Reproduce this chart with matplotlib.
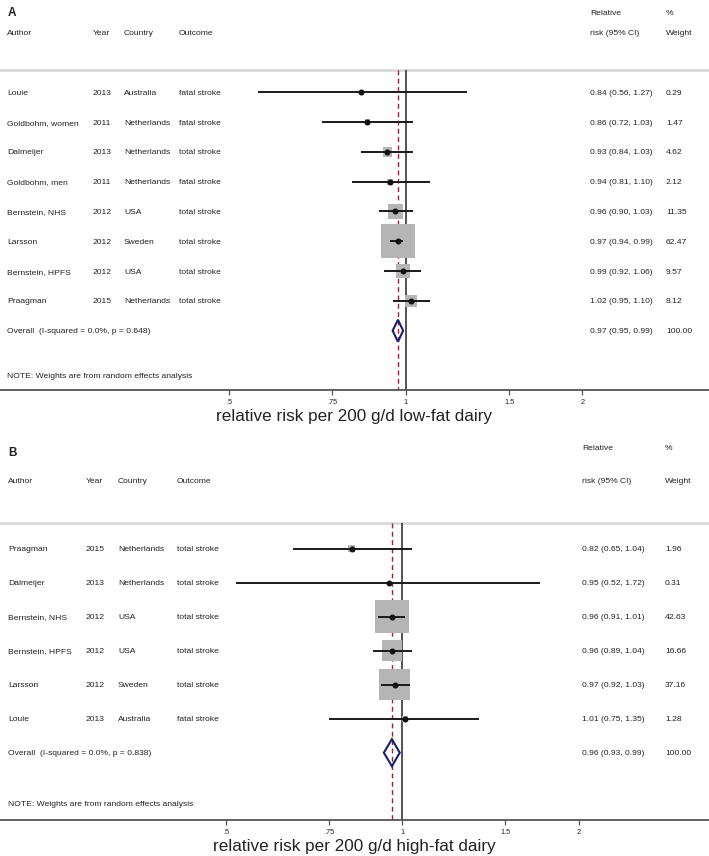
import numpy as np
import matplotlib.pyplot as plt
from matplotlib.patches import Polygon

plt.rcParams['font.family'] = ['Liberation Sans', 'DejaVu Sans']

# ---- panel A: low-fat dairy ----
authors_a = ["Louie", "Goldbohm, women", "Dalmeijer", "Goldbohm, men",
             "Bernstein, NHS", "Larsson", "Bernstein, HPFS", "Praagman"]
years_a = [2013, 2011, 2013, 2011, 2012, 2012, 2012, 2015]
countries_a = ["Australia", "Netherlands", "Netherlands", "Netherlands",
               "USA", "Sweden", "USA", "Netherlands"]
outcomes_a = ["fatal stroke", "fatal stroke", "total stroke", "fatal stroke",
              "total stroke", "total stroke", "total stroke", "total stroke"]
rr_a = [0.84, 0.86, 0.93, 0.94, 0.96, 0.97, 0.99, 1.02]
lo_a = [0.56, 0.72, 0.84, 0.81, 0.90, 0.94, 0.92, 0.95]
hi_a = [1.27, 1.03, 1.03, 1.10, 1.03, 0.99, 1.06, 1.10]
w_a = [0.29, 1.47, 4.62, 2.12, 11.35, 62.47, 9.57, 8.12]
overall_a = [0.97, 0.95, 0.99]
het_a = "Overall  (I-squared = 0.0%, p = 0.648)"

# ---- panel B: high-fat dairy ----
authors_b = ["Praagman", "Dalmeijer", "Bernstein, NHS", "Bernstein, HPFS",
             "Larsson", "Louie"]
years_b = [2015, 2013, 2012, 2012, 2012, 2013]
countries_b = ["Netherlands", "Netherlands", "USA", "USA", "Sweden", "Australia"]
outcomes_b = ["total stroke", "total stroke", "total stroke", "total stroke",
              "total stroke", "fatal stroke"]
rr_b = [0.82, 0.95, 0.96, 0.96, 0.97, 1.01]
lo_b = [0.65, 0.52, 0.91, 0.89, 0.92, 0.75]
hi_b = [1.04, 1.72, 1.01, 1.04, 1.03, 1.35]
w_b = [1.96, 0.31, 42.63, 16.66, 37.16, 1.28]
overall_b = [0.96, 0.93, 0.99]
het_b = "Overall  (I-squared = 0.0%, p = 0.838)"

tick_vals = [0.5, 0.75, 1, 1.5, 2]
tick_labs = [".5", ".75", "1", "1.5", "2"]

W, H = 709, 856
TXT = '#222222'
FS = 6.1
VA = 'center_baseline'


def forest(ax, letter, authors, years, countries, outcomes, rr, lo, hi, w,
           overall, het, xlab, one_px, px_ln, row_px, top_row, bottom_row,
           cols, head_rows, box_max, dia_h):
    n = len(rr)
    ax.set_xscale('log')
    ax.set_xlim(np.exp(-one_px / px_ln), np.exp((W - one_px) / px_ln))
    ax.set_ylim(bottom_row, top_row)
    for s in ['top', 'left', 'right']:
        ax.spines[s].set_visible(False)
    ax.spines['bottom'].set_color('#555555')
    ax.spines['bottom'].set_linewidth(1.3)
    ax.set_yticks([])
    ax.set_xticks(tick_vals)
    ax.set_xticklabels(tick_labs)
    ax.minorticks_off()
    ax.tick_params(axis='x', length=3.6, width=0.9, color='#555555',
                   labelsize=5.3, labelcolor=TXT, pad=3)
    ax.set_xlabel(xlab, fontsize=12.3, color=TXT, labelpad=2)

    tr = ax.get_yaxis_transform()  # x in axes fraction, y in data
    fx = lambda px: px / W

    # header
    ax.text(fx(8), head_rows[0], letter, transform=tr, fontsize=8.5,
            fontweight='bold', color=TXT, va=VA)
    ax.text(fx(cols[4]), head_rows[1], "Relative", transform=tr, fontsize=FS,
            color=TXT, va=VA)
    ax.text(fx(cols[5]), head_rows[1], "%", transform=tr, fontsize=FS,
            color=TXT, va=VA)
    heads = ["Author", "Year", "Country", "Outcome", "risk (95% CI)", "Weight"]
    for c, h in zip(cols, heads):
        ax.text(fx(c), -2, h, transform=tr, fontsize=FS, color=TXT, va=VA)
    ax.axhline(-0.75, color='#d9d9d9', lw=2, zorder=1)

    # rows
    y = np.arange(n)
    for i in range(n):
        vals = [authors[i], str(years[i]), countries[i], outcomes[i],
                "%.2f (%.2f, %.2f)" % (rr[i], lo[i], hi[i]), "%.2f" % w[i]]
        for c, v in zip(cols, vals):
            ax.text(fx(c), y[i], v, transform=tr, fontsize=FS, color=TXT,
                    va=VA)

    ax.vlines(1, -0.75, bottom_row, color='#444444', lw=1.3, zorder=2)
    ax.vlines(overall[0], -0.75, bottom_row, color='#8b2a3a', lw=1.0,
              linestyles=(0, (3.5, 2.5)), zorder=2)

    side_pt = box_max * 72 / 100
    sizes = side_pt ** 2 * np.array(w) / max(w)
    ax.scatter(rr, y, s=sizes, marker='s', color='#b5b5b5', linewidths=0,
               zorder=3)
    ax.hlines(y, lo, hi, color='#1a1a1a', lw=1.4, zorder=4)
    ax.plot(rr, y, 'o', color='#111111', ms=3.3, zorder=5)

    # overall diamond
    yo = n
    dh = dia_h / row_px
    dia = Polygon([(overall[1], yo), (overall[0], yo - dh), (overall[2], yo),
                   (overall[0], yo + dh)], closed=True, fill=False,
                  edgecolor='#1c1f6b', lw=1.5, zorder=6)
    ax.add_patch(dia)
    ax.text(fx(cols[0]), yo, het, transform=tr, fontsize=FS, color=TXT, va=VA)
    ax.text(fx(cols[4]), yo, "%.2f (%.2f, %.2f)" % tuple(overall),
            transform=tr, fontsize=FS, color=TXT, va=VA)
    ax.text(fx(cols[5]), yo, "100.00", transform=tr, fontsize=FS, color=TXT,
            va=VA)
    ax.text(fx(cols[0]), yo + 1.5, "NOTE: Weights are from random effects analysis",
            transform=tr, fontsize=FS, color=TXT, va=VA)


fig = plt.figure(figsize=(W / 100, H / 100), dpi=100)

# panel A: rows start at 92.3 px, 29.8 px apart; axis line at 390 px
axA = fig.add_axes([0, (H - 390) / H, 1, 390 / H])
forest(axA, "A", authors_a, years_a, countries_a, outcomes_a, rr_a, lo_a, hi_a,
       w_a, overall_a, het_a, "relative risk per 200 g/d low-fat dairy",
       one_px=405.7, px_ln=255, row_px=29.8, top_row=-92.3 / 29.8,
       bottom_row=(390 - 92.3) / 29.8,
       cols=[7, 93, 124, 179, 590, 666], head_rows=[(11 - 92.3) / 29.8,
                                                     (12.7 - 92.3) / 29.8],
       box_max=34, dia_h=11)

# panel B: rows start at 548.7 px, 34 px apart; axis line at 820 px
axB = fig.add_axes([0, (H - 820) / H, 1, (820 - 430) / H])
forest(axB, "B", authors_b, years_b, countries_b, outcomes_b, rr_b, lo_b, hi_b,
       w_b, overall_b, het_b, "relative risk per 200 g/d high-fat dairy",
       one_px=402.3, px_ln=254.4, row_px=34, top_row=(430 - 548.7) / 34,
       bottom_row=(820 - 548.7) / 34,
       cols=[8, 86, 118, 177, 582, 665], head_rows=[(452 - 548.7) / 34,
                                                     (447 - 548.7) / 34],
       box_max=33.3, dia_h=13.5)

fig.savefig('out.png', dpi=100)
